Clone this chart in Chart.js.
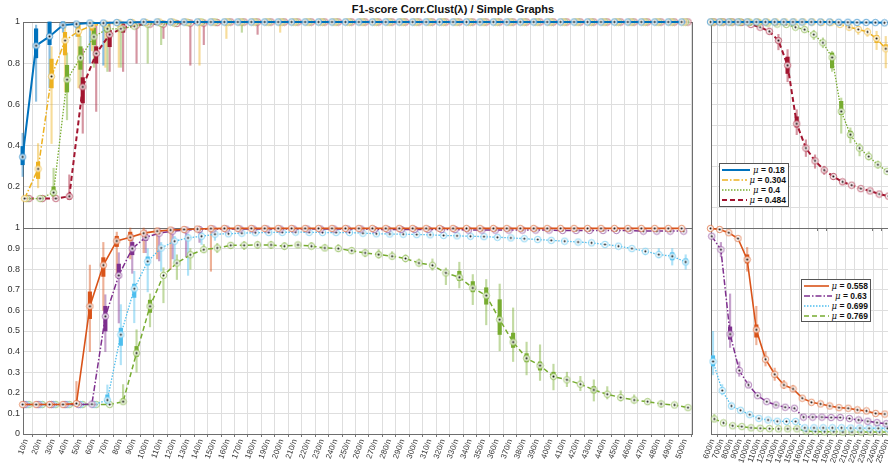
<!DOCTYPE html>
<html>
<head>
<meta charset="utf-8">
<script src="https://cdn.jsdelivr.net/npm/chart.js@4.4.1/dist/chart.umd.min.js"></script>
<style>
  html, body { margin: 0; padding: 0; background: #fff; }
  body { width: 888px; height: 464px; overflow: hidden; position: relative; font-family: "Liberation Sans", Arial, sans-serif; }
  canvas { position: absolute; }
  #title { position: absolute; left: 0; top: 3px; width: 906px; text-align: center; font-weight: bold; font-size: 11px; color: #111; }
  .legend { position: absolute; background: #fff; border: 1px solid #555; box-sizing: border-box; padding: 1px 2px; }
  .legend .row { display: flex; align-items: center; height: 10px; font-size: 8.5px; font-weight: bold; color: #111; white-space: nowrap; }
  .legend svg { margin-right: 3px; }
  .legend i { font-family: "DejaVu Serif", serif; font-weight: normal; }
</style>
</head>
<body>
<div id="title">F1-score Corr.Clust(λ) / Simple Graphs</div>
<canvas id="tl" width="700" height="240" style="left:0;top:0"></canvas>
<canvas id="tr" width="200" height="240" style="left:700px;top:0"></canvas>
<canvas id="bl" width="700" height="248" style="left:0;top:216px"></canvas>
<canvas id="br" width="200" height="248" style="left:700px;top:216px"></canvas>
<div class="legend" id="legTop" style="left:719px;top:163px;width:70px;height:44px"></div>
<div class="legend" id="legBot" style="left:801px;top:279px;width:70px;height:43px"></div>
<script>
// categorias (lambda = k/n)
const lamLeft = [10,20,30,40,50,60,70,80,90,100,110,120,130,140,150,160,170,180,190,200,
  210,220,230,240,250,260,270,280,290,300,310,320,330,340,350,360,370,380,390,400,
  410,420,430,440,450,460,470,480,490,500];
const lamRight = [600,700,800,900,1000,1100,1200,1300,1400,1500,1600,1700,1800,1900,2000,2100,2200,2300,2400,2500];
const labelsLeft = lamLeft.map(v => v + '/n');
const labelsRight = lamRight.map(v => v + '/n');

const yTicksTop = [0.2, 0.4, 0.6, 0.8, 1];
const yTicksTenth = [0, 0.1, 0.2, 0.3, 0.4, 0.5, 0.6, 0.7, 0.8, 0.9, 1];

// medianas, panel superior izquierdo
const f018 = [0.345,0.885,0.93,0.985,0.99,0.995,0.995,0.997,0.998,1, 1,1,1,1,1,1,1,1,1,1, 1,1,1,1,1,1,1,1,1,1, 1,1,1,1,1,1,1,1,1,1, 1,1,1,1,1,1,1,1,1,1];
const f0304 = [0.143,0.287,0.736,0.91,0.955,0.983,0.99,0.995,0.997,0.998, 1,1,1,1,1,1,1,1,1,1, 1,1,1,1,1,1,1,1,1,1, 1,1,1,1,1,1,1,1,1,1, 1,1,1,1,1,1,1,1,1,1];
const f04 = [0.143,0.143,0.172,0.72,0.826,0.928,0.967,0.967,0.98,0.99, 0.993,0.995,0.997,1,1,1,1,1,1,1, 1,1,1,1,1,1,1,1,1,1, 1,1,1,1,1,1,1,1,1,1, 1,1,1,1,1,1,1,1,1,1];
const f0484 = [0.143,0.143,0.143,0.154,0.685,0.847,0.939,0.972,0.985,0.99, 0.99,0.993,0.995,0.995,0.997,1,1,1,1,1, 1,1,1,1,1,1,1,1,1,1, 1,1,1,1,1,1,1,1,1,1, 1,1,1,1,1,1,1,1,1,1];

// medianas, panel inferior izquierdo
const f0558 = [0.143,0.143,0.143,0.143,0.148,0.62,0.82,0.937,0.955,0.975, 0.985,0.99,0.993,0.995,0.997,0.998,0.998,0.998,0.998,0.998,
  0.998,0.998,0.998,0.998,0.998,0.998,0.998,0.998,0.998,0.998, 0.998,0.998,0.998,0.998,0.998,0.998,0.998,0.998,0.998,0.998,
  0.998,0.998,0.998,0.998,0.998,0.998,0.998,0.998,0.998,0.998];
const f063 = [0.143,0.143,0.143,0.143,0.143,0.145,0.571,0.77,0.9,0.955, 0.975,0.985,0.99,0.993,0.995,0.995,0.995,0.995,0.995,0.995,
  0.995,0.995,0.995,0.995,0.995,0.995,0.993,0.993,0.993,0.993, 0.993,0.993,0.993,0.99,0.99,0.99,0.99,0.99,0.99,0.99,
  0.988,0.988,0.988,0.988,0.988,0.988,0.985,0.985,0.985,0.985];
const f0699 = [0.143,0.143,0.143,0.143,0.143,0.143,0.165,0.482,0.705,0.838, 0.903,0.936,0.952,0.96,0.97,0.972,0.975,0.977,0.978,0.979,
  0.98,0.979,0.978,0.978,0.978,0.975,0.972,0.971,0.97,0.968, 0.967,0.964,0.962,0.96,0.958,0.955,0.952,0.948,0.944,0.94,
  0.936,0.932,0.928,0.92,0.912,0.9,0.887,0.871,0.863,0.835];
const f0769 = [0.143,0.143,0.143,0.143,0.143,0.143,0.143,0.157,0.393,0.62, 0.77,0.83,0.87,0.895,0.903,0.916,0.916,0.918,0.918,0.912,
  0.918,0.912,0.903,0.9,0.89,0.879,0.871,0.863,0.852,0.83, 0.819,0.782,0.761,0.709,0.672,0.555,0.446,0.368,0.332,0.279,
  0.263,0.242,0.214,0.193,0.177,0.165,0.157,0.146,0.141,0.128];

// medianas, paneles derechos
const g018 = [1,1,1,1,1,1,1,1,1,1, 1,1,1,1,0.999,0.999,0.998,0.998,0.997,0.996];
const g0304 = [1,1,1,1,1,1,1,1,1,1, 1,1,0.998,0.997,0.988,0.975,0.964,0.952,0.92,0.87];
const g04 = [1,1,1,1,0.999,0.998,0.995,0.99,0.988,0.975, 0.963,0.939,0.899,0.828,0.566,0.453,0.388,0.347,0.307,0.275];
const g0484 = [1,1,1,0.998,0.988,0.975,0.955,0.91,0.79,0.506, 0.388,0.326,0.281,0.25,0.224,0.208,0.191,0.18,0.165,0.155];
const g0558 = [0.998,0.993,0.977,0.949,0.847,0.506,0.363,0.29,0.238,0.219, 0.174,0.154,0.146,0.136,0.128,0.125,0.117,0.112,0.1,0.097];
const g063 = [0.96,0.895,0.485,0.308,0.238,0.186,0.157,0.141,0.13,0.125, 0.082,0.082,0.082,0.08,0.08,0.075,0.068,0.062,0.055,0.05];
const g0699 = [0.352,0.211,0.136,0.115,0.094,0.076,0.068,0.062,0.061,0.061, 0.03,0.03,0.03,0.03,0.03,0.029,0.029,0.028,0.028,0.028];
const g0769 = [0.073,0.054,0.04,0.036,0.03,0.028,0.026,0.025,0.025,0.025, 0.014,0.012,0.011,0.011,0.01,0.01,0.01,0.01,0.01,0.01];

// bigotes y cajas: [lambda, min, max]
const wTL018 = [[10,0.25,0.46],[20,0.615,0.985],[30,0.68,1],[40,0.95,1],[50,0.93,1],[60,0.8,1],[70,0.79,1]];
const bTL018 = [[10,0.307,0.396],[20,0.826,0.967],[30,0.89,1],[40,0.975,1]];
const wTL0304 = [[20,0.195,0.41],[30,0.41,0.88],[40,0.66,1],[50,0.68,1],[60,0.86,1],[70,0.78,1],[80,0.78,1],[140,0.79,1],[160,0.92,1],[200,0.95,1]];
const bTL0304 = [[20,0.24,0.32],[30,0.68,0.82],[40,0.84,0.95],[50,0.93,0.99],[60,0.96,1]];
const wTL04 = [[30,0.15,0.29],[40,0.525,0.85],[50,0.68,0.93],[60,0.78,1],[70,0.76,1],[80,0.78,1],[100,0.8,1],[110,0.89,1],[170,0.95,1]];
const bTL04 = [[30,0.155,0.2],[40,0.66,0.79],[50,0.77,0.88],[60,0.89,0.97],[70,0.95,0.99]];
const wTL0484 = [[40,0.14,0.258],[50,0.46,0.87],[60,0.566,0.98],[70,0.76,1],[80,0.76,1],[90,0.8,1],[110,0.92,1],[130,0.79,1],[140,0.89,1],[180,0.94,1]];
const bTL0484 = [[40,0.14,0.165],[50,0.607,0.73],[60,0.8,0.88],[70,0.88,0.96],[80,0.95,0.99]];

const wTR0304 = [[2100,0.96,0.99],[2200,0.94,0.98],[2300,0.93,0.97],[2400,0.866,0.955],[2500,0.777,0.93]];
const bTR0304 = [[2400,0.9,0.935],[2500,0.865,0.89]];
const wTR04 = [[1600,0.95,0.975],[1700,0.915,0.96],[1800,0.875,0.923],[1900,0.76,0.858],[2000,0.46,0.631],[2100,0.413,0.486],[2200,0.35,0.41],[2300,0.33,0.37],[2400,0.29,0.325]];
const bTR04 = [[1900,0.777,0.85],[2000,0.55,0.615],[2100,0.44,0.47]];
const wTR0484 = [[1200,0.94,0.97],[1300,0.865,0.94],[1400,0.71,0.866],[1500,0.453,0.574],[1600,0.347,0.428],[1700,0.29,0.355],[1800,0.26,0.3],[1900,0.235,0.265],[2000,0.21,0.235]];
const bTR0484 = [[1300,0.9,0.92],[1400,0.75,0.83],[1500,0.49,0.54]];

const wBL0558 = [[50,0.14,0.255],[60,0.4,0.82],[70,0.6,0.93],[80,0.76,0.98],[90,0.85,1],[100,0.88,1],[110,0.85,1],[120,0.8,1],[150,0.79,1]];
const bBL0558 = [[60,0.56,0.69],[70,0.765,0.856],[80,0.91,0.96],[90,0.94,0.98]];
const wBL063 = [[60,0.14,0.16],[70,0.4,0.676],[80,0.539,0.88],[90,0.78,0.97],[100,0.88,0.99],[110,0.84,1],[120,0.85,1],[130,0.86,1],[140,0.93,1]];
const bBL063 = [[70,0.5,0.62],[80,0.76,0.825],[90,0.87,0.93],[100,0.94,0.97]];
const wBL0699 = [[70,0.14,0.238],[80,0.336,0.628],[90,0.54,0.79],[100,0.69,0.9],[110,0.79,0.93],[120,0.83,0.96],[130,0.77,0.97],[140,0.92,0.99],[150,0.94,0.99],
  [470,0.87,0.9],[480,0.855,0.9],[490,0.82,0.9],[500,0.8,0.87]];
const bBL0699 = [[70,0.15,0.19],[80,0.43,0.514],[90,0.663,0.728],[100,0.82,0.86],[490,0.845,0.88],[500,0.825,0.85]];
const wBL0769 = [[80,0.15,0.24],[90,0.3,0.506],[100,0.52,0.68],[110,0.637,0.807],[120,0.75,0.87],[130,0.8,0.9],[140,0.88,0.92],[150,0.88,0.925],
  [160,0.9,0.93],[170,0.895,0.935],[180,0.9,0.935],[190,0.9,0.935],[200,0.895,0.93],[210,0.905,0.93],[220,0.9,0.93],[230,0.89,0.92],
  [240,0.885,0.92],[250,0.875,0.905],[260,0.86,0.895],[270,0.853,0.895],[280,0.85,0.885],[290,0.835,0.87],[300,0.815,0.85],[310,0.795,0.85],
  [320,0.725,0.806],[330,0.709,0.834],[340,0.628,0.774],[350,0.53,0.75],[360,0.404,0.728],[370,0.352,0.612],[380,0.287,0.446],[390,0.26,0.433],
  [400,0.214,0.339],[410,0.23,0.3],[420,0.21,0.28],[430,0.16,0.263],[440,0.17,0.23],[450,0.16,0.21],[460,0.15,0.19],[470,0.145,0.17],
  [480,0.13,0.16],[490,0.135,0.15],[500,0.12,0.135]];
const bBL0769 = [[80,0.15,0.17],[90,0.376,0.425],[100,0.59,0.65],[270,0.865,0.88],[330,0.745,0.79],[340,0.69,0.74],[350,0.63,0.71],
  [360,0.483,0.652],[370,0.42,0.49],[380,0.35,0.39],[390,0.31,0.35],[400,0.27,0.3],[430,0.2,0.23]];

const wBR0558 = [[1000,0.79,0.906],[1100,0.433,0.62],[1200,0.33,0.4],[1300,0.26,0.32],[1400,0.22,0.26],[1500,0.205,0.235]];
const bBR0558 = [[1000,0.83,0.87],[1100,0.47,0.53]];
const wBR063 = [[700,0.86,0.93],[800,0.42,0.68],[900,0.28,0.35],[1000,0.225,0.25]];
const bBR063 = [[800,0.46,0.52]];
const wBR0699 = [[600,0.287,0.498],[700,0.19,0.24],[800,0.12,0.15]];
const bBR0699 = [[600,0.33,0.38]];
const wBR0769 = [[600,0.06,0.095]];

const FONT = '"Liberation Sans", Arial, sans-serif';
const GRID = '#dedede';

const C = {
  blue: '#0072BD', yellow: '#EDB120', green: '#77AC30', red: '#A2142F',
  orange: '#D95319', purple: '#7E2F8E', cyan: '#4DBEEE'
};
const DASHDOT = [6, 2, 1.5, 2];
const DOTTED = [1.5, 1.5];
const DASHED = [5, 3];

function fade(hex, a) {
  const n = parseInt(hex.slice(1), 16);
  return `rgba(${n >> 16}, ${(n >> 8) & 255}, ${n & 255}, ${a})`;
}

// circulo de la mediana con punto negro
function marker(color) {
  const c = document.createElement('canvas');
  c.width = 9; c.height = 9;
  const g = c.getContext('2d');
  g.beginPath();
  g.arc(4.5, 4.5, 3.2, 0, Math.PI * 2);
  g.fillStyle = 'rgba(255,255,255,0.75)';
  g.fill();
  g.strokeStyle = fade(color, 0.65);
  g.lineWidth = 1;
  g.stroke();
  g.beginPath();
  g.arc(4.5, 4.5, 1, 0, Math.PI * 2);
  g.fillStyle = '#111';
  g.fill();
  return c;
}

function buildDatasets(xs, series, offsets) {
  const out = [];
  series.forEach((s, k) => {
    const off = offsets[k];
    out.push({
      type: 'line', label: s.label,
      data: xs.map((x, i) => ({x: x + off, y: s.vals[i]})),
      borderColor: s.color, borderWidth: s.width, borderDash: s.dash,
      pointStyle: marker(s.color), pointRadius: 3, tension: 0, fill: false,
      order: 1, clip: false
    });
    out.push({
      type: 'bar', label: '',
      data: s.boxes.map(b => ({x: b[0] + off, y: [b[1], b[2]]})),
      backgroundColor: s.color, barThickness: 3.5, grouped: false, borderWidth: 0,
      order: 2, clip: false
    });
    out.push({
      type: 'bar', label: '',
      data: s.whisk.map(b => ({x: b[0] + off, y: [b[1], b[2]]})),
      backgroundColor: fade(s.color, 0.45), barThickness: 1.5, grouped: false, borderWidth: 0,
      order: 3, clip: false
    });
  });
  return out;
}

// marco del eje (caja tipo matlab)
const frame = {
  id: 'frame',
  beforeDatasetsDraw(chart) {
    const {ctx, chartArea: a} = chart;
    ctx.save();
    ctx.strokeStyle = '#6e6e6e';
    ctx.lineWidth = 1;
    ctx.strokeRect(Math.round(a.left) + 0.5, Math.round(a.top) + 0.5, Math.round(a.width), Math.round(a.height));
    ctx.restore();
  }
};

function panelOptions(p) {
  return {
    responsive: false,
    animation: false,
    devicePixelRatio: 1,
    layout: {padding: {top: p.padTop, right: p.padRight, left: 0, bottom: 0}},
    plugins: {legend: {display: false}, tooltip: {enabled: false}},
    scales: {
      x: {
        type: 'linear', min: p.xMin, max: p.xMax, offset: false,
        afterBuildTicks: s => { s.ticks = p.xs.map(v => ({value: v})); },
        afterFit: s => { s.height = p.xHeight; },
        grid: {color: GRID, tickLength: 3, tickColor: '#777'},
        border: {display: false},
        ticks: {
          display: p.showX, autoSkip: false, minRotation: 70, maxRotation: 70, padding: 1,
          font: {family: FONT, size: 8}, color: '#333',
          callback: (v, i) => p.labels[i]
        }
      },
      y: {
        min: 0, max: 1,
        afterBuildTicks: s => { s.ticks = p.ys.map(v => ({value: v})); },
        afterFit: s => { s.width = p.yWidth; },
        grid: {color: GRID, drawTicks: false},
        border: {display: false},
        ticks: {
          display: p.showY, padding: 3,
          font: {family: FONT, size: 9}, color: '#333',
          callback: v => String(+v.toFixed(1))
        }
      }
    }
  };
}

function makePanel(id, xs, series, offsets, p) {
  return new Chart(document.getElementById(id), {
    type: 'line',
    data: {datasets: buildDatasets(xs, series, offsets)},
    options: panelOptions(p),
    plugins: [frame]
  });
}

const topSeries = (vals, wh, bx) => [
  {label: 'μ = 0.18', color: C.blue, width: 2, dash: [], vals: vals[0], whisk: wh[0], boxes: bx[0]},
  {label: 'μ = 0.304', color: C.yellow, width: 1.5, dash: DASHDOT, vals: vals[1], whisk: wh[1], boxes: bx[1]},
  {label: 'μ = 0.4', color: C.green, width: 1.3, dash: DOTTED, vals: vals[2], whisk: wh[2], boxes: bx[2]},
  {label: 'μ = 0.484', color: C.red, width: 2, dash: DASHED, vals: vals[3], whisk: wh[3], boxes: bx[3]}
];
const botSeries = (vals, wh, bx) => [
  {label: 'μ = 0.558', color: C.orange, width: 1.6, dash: [], vals: vals[0], whisk: wh[0], boxes: bx[0]},
  {label: 'μ = 0.63', color: C.purple, width: 1.5, dash: DASHDOT, vals: vals[1], whisk: wh[1], boxes: bx[1]},
  {label: 'μ = 0.699', color: C.cyan, width: 1.3, dash: DOTTED, vals: vals[2], whisk: wh[2], boxes: bx[2]},
  {label: 'μ = 0.769', color: C.green, width: 1.5, dash: DASHED, vals: vals[3], whisk: wh[3], boxes: bx[3]}
];

const offLeft = [-2.5, -1, 0.5, 2.2];
const offRight = [-22, -8, 6, 20];

const leftBase = {xs: lamLeft, labels: labelsLeft, xMin: 7.77, xMax: 505.2, yWidth: 23, padRight: 8, showY: true};
const rightBase = {xs: lamRight, labels: labelsRight, xMin: 584, xMax: 2582, yWidth: 11, padRight: 4, showY: false, ys: yTicksTenth};

const chartTL = makePanel('tl', lamLeft,
  topSeries([f018, f0304, f04, f0484], [wTL018, wTL0304, wTL04, wTL0484], [bTL018, bTL0304, bTL04, bTL0484]),
  offLeft, {...leftBase, ys: yTicksTop, padTop: 22, xHeight: 12, showX: false});

const chartTR = makePanel('tr', lamRight,
  topSeries([g018, g0304, g04, g0484], [[], wTR0304, wTR04, wTR0484], [[], bTR0304, bTR04, bTR0484]),
  offRight, {...rightBase, padTop: 22, xHeight: 12, showX: false});

const chartBL = makePanel('bl', lamLeft,
  botSeries([f0558, f063, f0699, f0769], [wBL0558, wBL063, wBL0699, wBL0769], [bBL0558, bBL063, bBL0699, bBL0769]),
  offLeft, {...leftBase, ys: yTicksTenth, padTop: 12, xHeight: 30, showX: true});

const chartBR = makePanel('br', lamRight,
  botSeries([g0558, g063, g0699, g0769], [wBR0558, wBR063, wBR0699, wBR0769], [bBR0558, bBR063, bBR0699, []]),
  offRight, {...rightBase, padTop: 12, xHeight: 30, showX: true});

// leyenda en html a partir de los datasets de lineas
function htmlLegend(chart, elId) {
  const el = document.getElementById(elId);
  chart.data.datasets.filter(d => d.type === 'line').forEach(d => {
    const row = document.createElement('div');
    row.className = 'row';
    const dash = d.borderDash.join(',');
    row.innerHTML = `<svg width="28" height="6"><line x1="0" y1="3" x2="28" y2="3" stroke="${d.borderColor}" stroke-width="${d.borderWidth}" stroke-dasharray="${dash}"/></svg>` +
      `<span>${d.label.replace('μ', '<i>μ</i>')}</span>`;
    el.appendChild(row);
  });
}

htmlLegend(chartTR, 'legTop');
htmlLegend(chartBR, 'legBot');
</script>
</body>
</html>
